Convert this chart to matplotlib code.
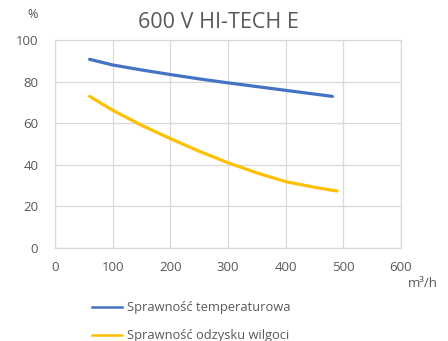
import matplotlib
matplotlib.use("Agg")
import matplotlib.pyplot as plt
from matplotlib.lines import Line2D

plt.rcParams['font.family'] = ['Open Sans', 'DejaVu Sans']

title = "600 V HI-TECH E"
x_temp = [60, 100, 150, 200, 250, 300, 350, 400, 450, 481]
y_temp = [90.7, 88.0, 85.6, 83.4, 81.3, 79.4, 77.6, 75.8, 74.0, 72.9]
x_hum = [60, 100, 150, 200, 250, 300, 350, 400, 450, 489]
y_hum = [72.9, 66.2, 59.0, 52.6, 46.5, 41.0, 36.1, 31.9, 29.2, 27.4]
label_temp = "Sprawność temperaturowa"
label_hum = "Sprawność odzysku wilgoci"
x_ticks = [0, 100, 200, 300, 400, 500, 600]
y_ticks = [0, 20, 40, 60, 80, 100]

c_temp = "#4472C4"
c_hum = "#FFC000"
grey = "#595959"
grid_c = "#D9D9D9"

W, H = 448, 341
fig = plt.figure(figsize=(W / 100, H / 100), dpi=100)
ax = fig.add_axes([0.1228, 0.2727, 0.7723, 0.6100])
ax.plot(x_temp, y_temp, color=c_temp, lw=2.3, solid_capstyle='round')
ax.plot(x_hum, y_hum, color=c_hum, lw=2.3, solid_capstyle='round')
ax.set_xlim(0, 600)
ax.set_ylim(0, 100)
ax.set_xticks(x_ticks)
ax.set_yticks(y_ticks)
ax.grid(True, color=grid_c, lw=0.9)
ax.set_axisbelow(True)
for s in ax.spines.values():
    s.set_color(grid_c)
    s.set_linewidth(0.9)
ax.tick_params(length=0, colors=grey, labelsize=9.5, pad=9)
ax.tick_params(axis='y', pad=12)

fig.text(0.488, 0.935, title, ha='center', va='center', fontsize=15.5, color=grey)
fig.text(0.073, 0.958, "%", ha='center', va='center', fontsize=9, color=grey)
fig.text(0.945, 0.170, "m³/h", ha='center', va='center', fontsize=9.5, color=grey)

# legend (manual layout)
for (lab, col, ypx) in [(label_temp, c_temp, 307), (label_hum, c_hum, 335)]:
    yf = 1 - ypx / H
    fig.add_artist(Line2D([92 / W, 122 / W], [yf, yf], transform=fig.transFigure,
                          color=col, lw=1.8))
    fig.text(127 / W, yf, lab, ha='left', va='center', fontsize=9.3, color=grey)

fig.savefig("out.png", dpi=100)
